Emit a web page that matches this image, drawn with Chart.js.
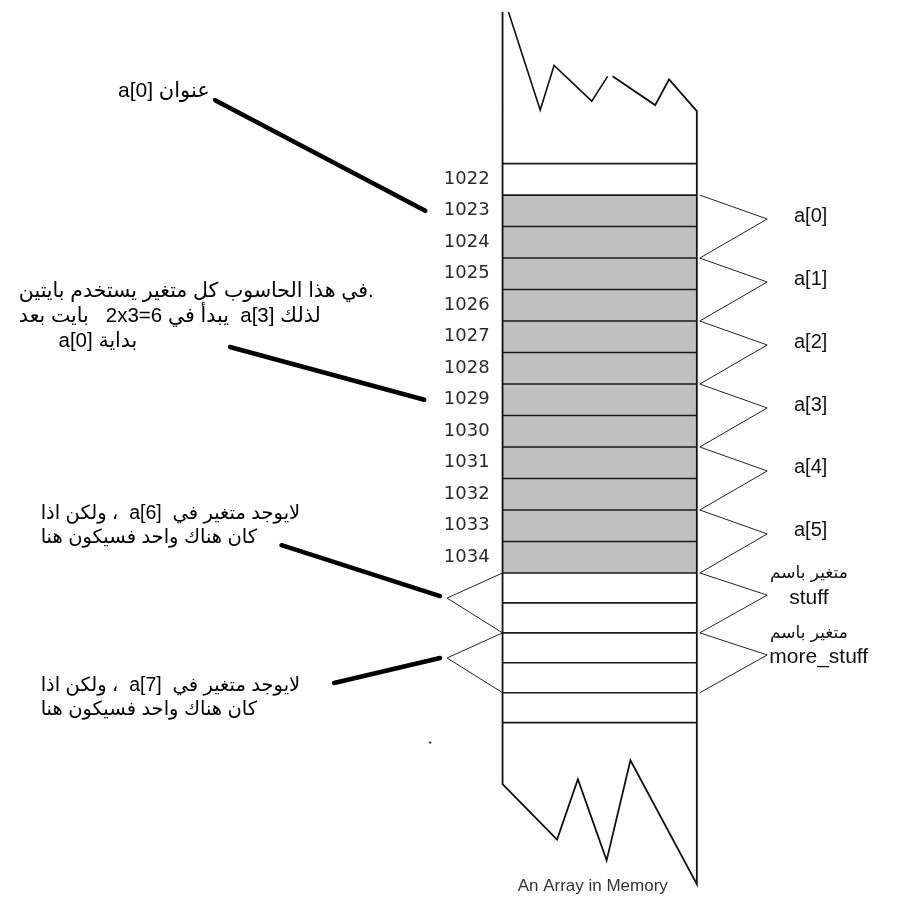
<!DOCTYPE html>
<html>
<head>
<meta charset="utf-8">
<script src="https://cdn.jsdelivr.net/npm/chart.js@4.4.1/dist/chart.umd.min.js"></script>
<style>
html,body{margin:0;padding:0;background:#ffffff;}
#wrap{width:905px;height:912px;position:relative;}
</style>
</head>
<body>
<div id="wrap"><canvas id="c" width="905" height="912"></canvas></div>
<script>
// ================= DATA =================
const addresses = ['1022','1023','1024','1025','1026','1027','1028','1029','1030','1031','1032','1033','1034'];
const firstElementAddress = 1023;
const bytesPerElement = 2;
const elementLabels = ['a[0]','a[1]','a[2]','a[3]','a[4]','a[5]'];
const emptyRowsBelow = 5;
const otherVariables = ['stuff','more_stuff'];
const otherVarCaption = 'متغير باسم';
const missingElements = ['a[6]','a[7]'];
const chartTitle = 'An Array in Memory';
const noteAddress = ['عنوان \u2066a[0]\u2069'];
const noteBytes = ['.في هذا الحاسوب كل متغير يستخدم بايتين',
                   'لذلك \u2066a[3]\u2069  يبدأ في \u20662x3=6\u2069   بايت بعد',
                   'بداية \u2066a[0]\u2069'];
const noteMissing6 = ['لايوجد متغير في  \u2066a[6]\u2069  ، ولكن اذا', 'كان هناك واحد فسيكون هنا'];
const noteMissing7 = ['لايوجد متغير في  \u2066a[7]\u2069  ، ولكن اذا', 'كان هناك واحد فسيكون هنا'];

// ================= LAYOUT (diagram units) =================
const L = {
  colL: 503, colR: 699, row0: 161, rowH: 31.77, lowH: 30.2,
  addrX: 490, braceR: 770, braceL: 447, labelX: 797, capX: 812,
  outlineA: [[509,8],[541,107],[555,62],[572,78],[593,98],[609,73]],
  outlineB: [[614,73],[657,102],[671,76],[699,108],[699,888],[632,763],[608,864],[579,782],[558,843],[503,787],[503,8]],
  dot: [430,745]
};
const grayStart = firstElementAddress - parseInt(addresses[0], 10);
const grayEnd = grayStart + elementLabels.length * bytesPerElement;
const lastRow = grayEnd + emptyRowsBelow;
function rowY(k){ return k <= grayEnd ? L.row0 + L.rowH*k : L.row0 + L.rowH*grayEnd + L.lowH*(k-grayEnd); }
const GAP = {x:null, y:null};
function poly(pts){ return pts.map(p => ({x:p[0], y:p[1]})); }

// cell borders
const cellLines = [];
for (let k = 0; k <= lastRow; k++) { cellLines.push({x:L.colL,y:rowY(k)},{x:L.colR,y:rowY(k)},GAP); }

// right braces for elements
const elemBraces = [];
const elemLabelPos = [];
elementLabels.forEach((lab,i) => {
  const t = rowY(grayStart + i*bytesPerElement), b = rowY(grayStart + (i+1)*bytesPerElement);
  const ay = t + (b-t)*0.38;
  elemBraces.push({x:L.colR+3,y:t},{x:L.braceR,y:ay},{x:L.colR+3,y:b},GAP);
  elemLabelPos.push(ay - 3);
});
// right braces for other variables
const varBraces = [];
const varPos = [];
otherVariables.forEach((v,i) => {
  const t = rowY(grayEnd + 2*i), b = rowY(grayEnd + 2*i + 2);
  const ay = t + (b-t)*0.37;
  varBraces.push({x:L.colR+3,y:t},{x:L.braceR,y:ay},{x:L.colR+3,y:b},GAP);
  varPos.push(t);
});
// left braces for missing elements
const missBraces = [];
const missApex = [];
missingElements.forEach((m,i) => {
  const t = rowY(grayEnd + 2*i), b = rowY(grayEnd + 2*i + 2);
  const ay = t + (b-t)*0.42;
  missBraces.push({x:L.colL,y:t},{x:L.braceL,y:ay},{x:L.colL,y:b},GAP);
  missApex.push(ay);
});
// pointer lines
const rowMid = k => (rowY(k)+rowY(k+1))/2;
const pointers = [
  {x:213,y:97},{x:L.addrX-65,y:rowMid(grayStart)},GAP,
  {x:228,y:346},{x:L.addrX-66,y:rowMid(grayStart+3*bytesPerElement)},GAP,
  {x:280,y:546},{x:L.braceL-7,y:missApex[0]-2},GAP,
  {x:333,y:685},{x:L.braceL-7,y:missApex[1]},GAP
];

const datasets = [
  {data:pointers, borderColor:'#000', borderWidth:4.5, borderCapStyle:'round', order:1},
  {data:cellLines, borderColor:'#1a1a1a', borderWidth:1.6, order:2},
  {data:poly(L.outlineA), borderColor:'#111', borderWidth:1.6, order:2},
  {data:poly(L.outlineB), borderColor:'#111', borderWidth:1.8, order:2},
  {data:elemBraces, borderColor:'#222', borderWidth:1, order:3},
  {data:varBraces, borderColor:'#222', borderWidth:1, order:3},
  {data:missBraces, borderColor:'#222', borderWidth:1, order:3},
  {data:[{x:L.dot[0],y:L.dot[1]}], showLine:false, pointRadius:1.2, pointBackgroundColor:'#444', pointBorderWidth:0, order:3},
  {data:[{x:L.colL,y:rowY(grayStart)},{x:L.colR,y:rowY(grayStart)}], borderWidth:0, borderColor:'rgba(0,0,0,0)',
   backgroundColor:'#c0c0c0', fill:{value:rowY(grayEnd)}, order:9}
];
datasets.forEach(d => { if (d.showLine === undefined) d.showLine = true; d.spanGaps = false; if (d.pointRadius === undefined) d.pointRadius = 0; });

const textPlugin = {
  id: 'diagramText',
  afterDatasetsDraw(chart){
    const ctx = chart.ctx, xs = chart.scales.x, ys = chart.scales.y;
    const px = v => xs.getPixelForValue(v), py = v => ys.getPixelForValue(v);
    ctx.save();
    ctx.textBaseline = 'middle';
    // addresses
    ctx.direction = 'ltr';
    ctx.font = '18px "DejaVu Sans"';
    ctx.fillStyle = '#2a2a2a';
    ctx.textAlign = 'right';
    addresses.forEach((a,k) => ctx.fillText(a, px(L.addrX), py(rowMid(k))));
    // element labels
    ctx.font = '20px "Liberation Sans"';
    ctx.textAlign = 'left';
    ctx.fillStyle = '#111';
    elementLabels.forEach((lab,i) => ctx.fillText(lab, px(L.labelX), py(elemLabelPos[i])));
    // other variables
    ctx.textAlign = 'center';
    otherVariables.forEach((v,i) => {
      ctx.direction = 'rtl';
      ctx.font = '17px "DejaVu Sans"';
      ctx.fillText(otherVarCaption, px(L.capX), py(varPos[i]+1));
      ctx.direction = 'ltr';
      ctx.font = '21px "Liberation Sans"';
      ctx.fillText(v, px(L.capX + (i ? 10 : 0)), py(varPos[i]+25));
    });
    // Arabic notes
    ctx.direction = 'rtl';
    ctx.textAlign = 'left';
    ctx.fillStyle = '#000';
    const drawNote = (lines, xs0, y0, dy, size) => {
      ctx.font = size + 'px "Liberation Sans", "DejaVu Sans"';
      lines.forEach((t,i) => ctx.fillText(t, px(xs0[i]), py(y0 + i*dy)));
    };
    drawNote(noteAddress, [115], 88, 25, 21);
    drawNote(noteBytes, [15,15,55], 290, 25, 20.5);
    drawNote(noteMissing6, [37,37], 514, 24, 19.5);
    drawNote(noteMissing7, [37,37], 688, 24, 19.5);
    // title
    ctx.direction = 'ltr';
    ctx.textAlign = 'center';
    ctx.font = '17px "Liberation Sans"';
    ctx.fillStyle = '#333';
    ctx.fillText(chartTitle, px(594), py(890));
    ctx.restore();
  }
};

new Chart(document.getElementById('c'), {
  type: 'scatter',
  data: { datasets },
  options: {
    responsive: false,
    devicePixelRatio: 1,
    animation: false,
    layout: { padding: 0 },
    scales: {
      x: { type:'linear', min:0, max:905, display:false },
      y: { type:'linear', min:0, max:912, reverse:true, display:false }
    },
    elements: { line: { tension: 0 } },
    plugins: { legend:{display:false}, tooltip:{enabled:false}, filler:{drawTime:'beforeDatasetsDraw'} }
  },
  plugins: [textPlugin]
});
</script>
</body>
</html>
